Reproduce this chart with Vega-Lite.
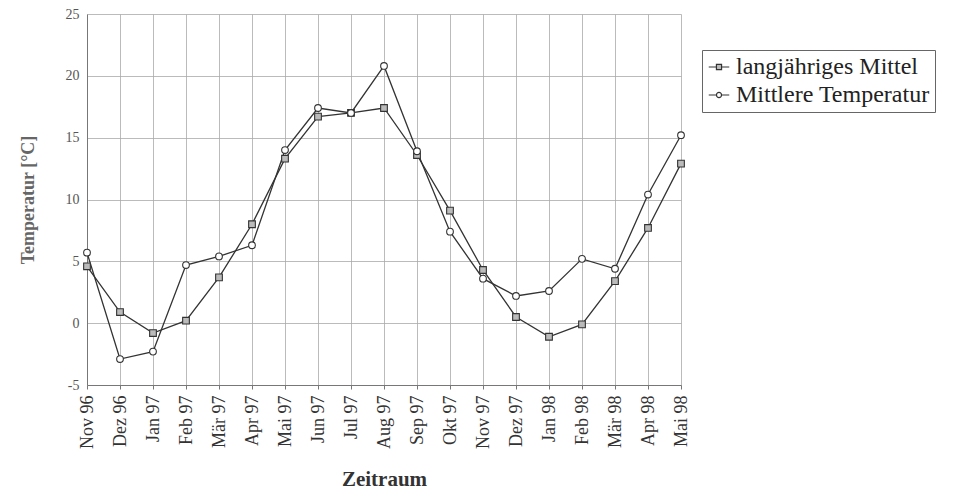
{
  "$schema": "https://vega.github.io/schema/vega-lite/v6.json",
  "autosize": "none",
  "width": 594,
  "height": 371,
  "padding": {"left": 87, "top": 14, "right": 273, "bottom": 110},
  "background": "white",
  "config": {
    "font": "Liberation Serif",
    "view": {"stroke": null},
    "axis": {"labelFont": "Liberation Serif", "titleFont": "Liberation Serif", "gridColor": "#aaa", "gridWidth": 0.8, "domainColor": "#777", "tickColor": "#777"}
  },
  "data": {"values": [
    {"m": "Nov 96", "s": "langjähriges Mittel", "t": 4.6},
    {"m": "Dez 96", "s": "langjähriges Mittel", "t": 0.9},
    {"m": "Jan 97", "s": "langjähriges Mittel", "t": -0.8},
    {"m": "Feb 97", "s": "langjähriges Mittel", "t": 0.2},
    {"m": "Mär 97", "s": "langjähriges Mittel", "t": 3.7},
    {"m": "Apr 97", "s": "langjähriges Mittel", "t": 8.0},
    {"m": "Mai 97", "s": "langjähriges Mittel", "t": 13.3},
    {"m": "Jun 97", "s": "langjähriges Mittel", "t": 16.7},
    {"m": "Jul 97", "s": "langjähriges Mittel", "t": 17.0},
    {"m": "Aug 97", "s": "langjähriges Mittel", "t": 17.4},
    {"m": "Sep 97", "s": "langjähriges Mittel", "t": 13.6},
    {"m": "Okt 97", "s": "langjähriges Mittel", "t": 9.1},
    {"m": "Nov 97", "s": "langjähriges Mittel", "t": 4.3},
    {"m": "Dez 97", "s": "langjähriges Mittel", "t": 0.5},
    {"m": "Jan 98", "s": "langjähriges Mittel", "t": -1.1},
    {"m": "Feb 98", "s": "langjähriges Mittel", "t": -0.1},
    {"m": "Mär 98", "s": "langjähriges Mittel", "t": 3.4},
    {"m": "Apr 98", "s": "langjähriges Mittel", "t": 7.7},
    {"m": "Mai 98", "s": "langjähriges Mittel", "t": 12.9},
    {"m": "Nov 96", "s": "Mittlere Temperatur", "t": 5.7},
    {"m": "Dez 96", "s": "Mittlere Temperatur", "t": -2.9},
    {"m": "Jan 97", "s": "Mittlere Temperatur", "t": -2.3},
    {"m": "Feb 97", "s": "Mittlere Temperatur", "t": 4.7},
    {"m": "Mär 97", "s": "Mittlere Temperatur", "t": 5.4},
    {"m": "Apr 97", "s": "Mittlere Temperatur", "t": 6.3},
    {"m": "Mai 97", "s": "Mittlere Temperatur", "t": 14.0},
    {"m": "Jun 97", "s": "Mittlere Temperatur", "t": 17.4},
    {"m": "Jul 97", "s": "Mittlere Temperatur", "t": 17.0},
    {"m": "Aug 97", "s": "Mittlere Temperatur", "t": 20.8},
    {"m": "Sep 97", "s": "Mittlere Temperatur", "t": 13.9},
    {"m": "Okt 97", "s": "Mittlere Temperatur", "t": 7.4},
    {"m": "Nov 97", "s": "Mittlere Temperatur", "t": 3.6},
    {"m": "Dez 97", "s": "Mittlere Temperatur", "t": 2.2},
    {"m": "Jan 98", "s": "Mittlere Temperatur", "t": 2.6},
    {"m": "Feb 98", "s": "Mittlere Temperatur", "t": 5.2},
    {"m": "Mär 98", "s": "Mittlere Temperatur", "t": 4.4},
    {"m": "Apr 98", "s": "Mittlere Temperatur", "t": 10.4},
    {"m": "Mai 98", "s": "Mittlere Temperatur", "t": 15.2}
  ]},
  "encoding": {
    "x": {
      "field": "m", "type": "ordinal", "sort": null,
      "scale": {"type": "point", "padding": 0},
      "axis": {"title": "Zeitraum", "titleFontSize": 21, "titleFontWeight": "bold", "titleColor": "#333", "titlePadding": 20,
               "labelAngle": -90, "labelFontSize": 18, "labelColor": "#333", "labelPadding": 6, "grid": true, "ticks": true, "tickSize": 4, "domain": true}
    },
    "y": {
      "field": "t", "type": "quantitative",
      "scale": {"domain": [-5, 25], "nice": false},
      "axis": {"title": "Temperatur [°C]", "titleFontSize": 18, "titleFontWeight": "bold", "titleColor": "#666", "titlePadding": 28,
               "values": [-5, 0, 5, 10, 15, 20, 25], "labelExpr": "'' + datum.value", "labelFontSize": 14, "labelColor": "#555", "labelPadding": 8, "ticks": false, "grid": true, "domain": true}
    }
  },
  "layer": [
    {
      "mark": {"type": "line", "strokeWidth": 1.3},
      "encoding": {
        "color": {
          "field": "s", "type": "nominal", "sort": ["langjähriges Mittel", "Mittlere Temperatur"],
          "scale": {"range": ["#333", "#333"]},
          "legend": {
            "title": null, "orient": "none", "legendX": 615, "legendY": 36,
            "labelFont": "Liberation Serif", "labelFontSize": 24, "labelColor": "#222", "labelLimit": 400, "labelOffset": 5,
            "strokeColor": "#666", "padding": 5, "rowPadding": 4, "symbolSize": 420, "symbolStrokeWidth": 1.2,
            "symbolFillColor": "white",
            "encode": {"symbols": {"update": {
              "shape": {"signal": "datum.value === 'langjähriges Mittel' ? 'M-1,0H-0.25M0.25,0H1M-0.25,-0.25H0.25V0.25H-0.25Z' : 'M-1,0H-0.25M0.25,0H1M-0.25,0A0.25,0.25 0 1,0 0.25,0A0.25,0.25 0 1,0 -0.25,0Z'"},
              "fill": {"signal": "datum.value === 'langjähriges Mittel' ? '#bbb' : 'white'"},
              "stroke": {"value": "#333"}
            }}}
          }
        }
      }
    },
    {
      "mark": {"type": "point", "filled": false, "size": 45, "strokeWidth": 1.1, "opacity": 1},
      "encoding": {
        "shape": {"field": "s", "type": "nominal", "sort": ["langjähriges Mittel", "Mittlere Temperatur"], "scale": {"range": ["square", "circle"]}, "legend": null},
        "fill": {"field": "s", "type": "nominal", "scale": {"domain": ["langjähriges Mittel", "Mittlere Temperatur"], "range": ["#bbb", "white"]}, "legend": null},
        "stroke": {"value": "#333"}
      }
    }
  ]
}
